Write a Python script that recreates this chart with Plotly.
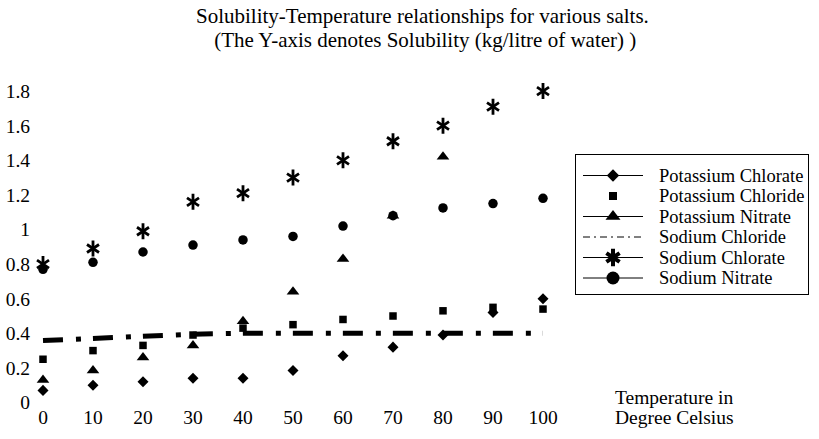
import plotly.graph_objects as go

temps = [0, 10, 20, 30, 40, 50, 60, 70, 80, 90, 100]
potassium_chlorate = [0.07, 0.10, 0.12, 0.14, 0.14, 0.185, 0.27, 0.32, 0.39, 0.52, 0.60]
potassium_chloride = [0.25, 0.30, 0.33, 0.39, 0.43, 0.45, 0.48, 0.50, 0.53, 0.55, 0.54]
potassium_nitrate = [0.13, 0.185, 0.26, 0.33, 0.47, 0.64, 0.83, 1.08, 1.42, None, None]
sodium_chloride = [0.358, 0.372, 0.384, 0.395, 0.40, 0.40, 0.40, 0.40, 0.40, 0.40, 0.40]
sodium_chlorate = [0.80, 0.89, 0.99, 1.16, 1.21, 1.30, 1.40, 1.51, 1.60, 1.71, 1.80]
sodium_nitrate = [0.77, 0.81, 0.87, 0.91, 0.94, 0.96, 1.02, 1.08, 1.125, 1.15, 1.18]

x_ticks = [0, 10, 20, 30, 40, 50, 60, 70, 80, 90, 100]
x_tick_labels = ["0", "10", "20", "30", "40", "50", "60", "70", "80", "90", "100"]
y_ticks = [0, 0.2, 0.4, 0.6, 0.8, 1.0, 1.2, 1.4, 1.6, 1.8]
y_tick_labels = ["0", "0.2", "0.4", "0.6", "0.8", "1", "1.2", "1.4", "1.6", "1.8"]

names = ["Potassium Chlorate", "Potassium Chloride", "Potassium Nitrate",
         "Sodium Chloride", "Sodium Chlorate", "Sodium Nitrate"]

title_lines = ["Solubility-Temperature relationships for various salts.",
               " (The Y-axis denotes Solubility (kg/litre of water) )"]
x_title_lines = ["Temperature in", "Degree Celsius"]

FONT = "Liberation Serif, Times New Roman, serif"
BLK = "black"

# ---- geometry (screen px; page body margin removed via post_script) ----
W, H = 819, 439
plot_left_s, plot_right_s = 31, 809
plot_top_s, plot_bottom_s = 70, 403
ml = plot_left_s
mr = W - plot_right_s
mt = plot_top_s
mb = H - plot_bottom_s
plot_w = plot_right_s - plot_left_s
plot_h = plot_bottom_s - plot_top_s

main_right_s = 560
x0_s, px_per_x = 43.0, 5.0
y0_s, px_per_y = 402.5, 173.0
xr = [(plot_left_s - x0_s) / px_per_x, (main_right_s - x0_s) / px_per_x]
yr = [(y0_s - plot_bottom_s) / px_per_y, (y0_s - plot_top_s) / px_per_y]


def sx(X):
    return (X - plot_left_s) / plot_w


def sy(Y):
    return (plot_bottom_s - Y) / plot_h


# legend box (screen px)
leg_l, leg_r, leg_t, leg_b = 576, 808, 155, 294
leg_w, leg_h = leg_r - leg_l, leg_b - leg_t

fig = go.Figure()

# ---- data traces ----
fig.add_trace(go.Scatter(x=temps, y=sodium_chloride, mode="lines", showlegend=False,
                         line=dict(color=BLK, width=5, dash="20px,13px,5px,12px"),
                         cliponaxis=False))
fig.add_trace(go.Scatter(x=temps, y=potassium_chlorate, mode="markers", showlegend=False,
                         marker=dict(symbol="diamond", size=8.5, color=BLK), cliponaxis=False))
fig.add_trace(go.Scatter(x=temps, y=potassium_chloride, mode="markers", showlegend=False,
                         marker=dict(symbol="square", size=7.5, color=BLK), cliponaxis=False))
fig.add_trace(go.Scatter(x=temps, y=potassium_nitrate, mode="markers", showlegend=False,
                         marker=dict(symbol="triangle-up", size=11, color=BLK), cliponaxis=False))
fig.add_trace(go.Scatter(x=temps, y=sodium_nitrate, mode="markers", showlegend=False,
                         marker=dict(symbol="circle", size=9.5, color=BLK), cliponaxis=False))
for sym in ["y-up-open", "y-down-open"]:
    fig.add_trace(go.Scatter(x=temps, y=sodium_chlorate, mode="markers", showlegend=False,
                             marker=dict(symbol=sym, size=10, color=BLK,
                                         line=dict(color=BLK, width=2.8)),
                             cliponaxis=False))

# ---- legend drawn on its own small axes ----
row0, row_step = 20.5, 20.5
sym_x0, sym_x1, sym_xm, text_x = 7, 67, 37, 81
leg_marks = [
    (True, [dict(symbol="diamond", size=9.5, color=BLK)], None),
    (False, [dict(symbol="square", size=8, color=BLK)], None),
    (True, [dict(symbol="triangle-up", size=13, color=BLK)], None),
    (True, [], "7px,4px,2px,4px"),
    (True, [dict(symbol="y-up-open", size=11, color=BLK, line=dict(color=BLK, width=4)),
            dict(symbol="y-down-open", size=11, color=BLK, line=dict(color=BLK, width=4))], None),
    (True, [dict(symbol="circle", size=13, color=BLK)], None),
]
annotations = []
for i, (nm, (has_line, mks, dash)) in enumerate(zip(names, leg_marks)):
    ry = row0 + row_step * i
    if has_line:
        fig.add_trace(go.Scatter(x=[sym_x0, sym_x1], y=[ry, ry], mode="lines", showlegend=False,
                                 line=dict(color=BLK, width=1, dash=dash or "solid"),
                                 xaxis="x2", yaxis="y2", hoverinfo="skip"))
    for mk in mks:
        fig.add_trace(go.Scatter(x=[sym_xm], y=[ry], mode="markers", showlegend=False,
                                 marker=mk, xaxis="x2", yaxis="y2", hoverinfo="skip",
                                 cliponaxis=False))
    annotations.append(dict(text=nm, x=text_x, y=ry, xref="x2", yref="y2",
                            xanchor="left", yanchor="middle", showarrow=False,
                            font=dict(family=FONT, size=18.5, color=BLK)))

# ---- titles ----
for txt, Y in zip(title_lines, [16, 40]):
    annotations.append(dict(text=txt, x=sx(422.5), y=sy(Y), xref="paper", yref="paper",
                            xanchor="center", yanchor="middle", showarrow=False,
                            font=dict(family=FONT, size=21, color=BLK)))
for txt, Y in zip(x_title_lines, [397, 417]):
    annotations.append(dict(text=txt, x=sx(613), y=sy(Y), xref="paper", yref="paper",
                            xanchor="left", yanchor="middle", showarrow=False,
                            font=dict(family=FONT, size=19.5, color=BLK)))

fig.update_layout(
    width=W, height=H,
    margin=dict(l=ml, r=mr, t=mt, b=mb, autoexpand=False),
    paper_bgcolor="white", plot_bgcolor="white",
    font=dict(family=FONT, size=19.5, color=BLK),
    showlegend=False,
    hovermode=False,
    xaxis=dict(domain=[0, sx(main_right_s)], range=xr, tickvals=x_ticks, ticktext=x_tick_labels,
               showgrid=False, zeroline=False, showline=False, ticks="",
               tickfont=dict(family=FONT, size=19.5, color=BLK)),
    yaxis=dict(domain=[0, 1], range=yr, tickvals=y_ticks, ticktext=y_tick_labels,
               showgrid=False, zeroline=False, showline=False, ticks="",
               tickfont=dict(family=FONT, size=19.5, color=BLK)),
    xaxis2=dict(domain=[sx(leg_l), sx(leg_r)], range=[0, leg_w], anchor="y2",
                showgrid=False, zeroline=False, showticklabels=False, ticks="",
                showline=True, mirror=True, linecolor=BLK, linewidth=1, fixedrange=True),
    yaxis2=dict(domain=[sy(leg_b), sy(leg_t)], range=[leg_h, 0], anchor="x2",
                showgrid=False, zeroline=False, showticklabels=False, ticks="",
                showline=True, mirror=True, linecolor=BLK, linewidth=1, fixedrange=True),
    annotations=annotations,
)

fig.write_html("out.html", config={"displayModeBar": False},
               post_script="document.body.style.margin='0px';document.body.style.overflow='hidden';")
